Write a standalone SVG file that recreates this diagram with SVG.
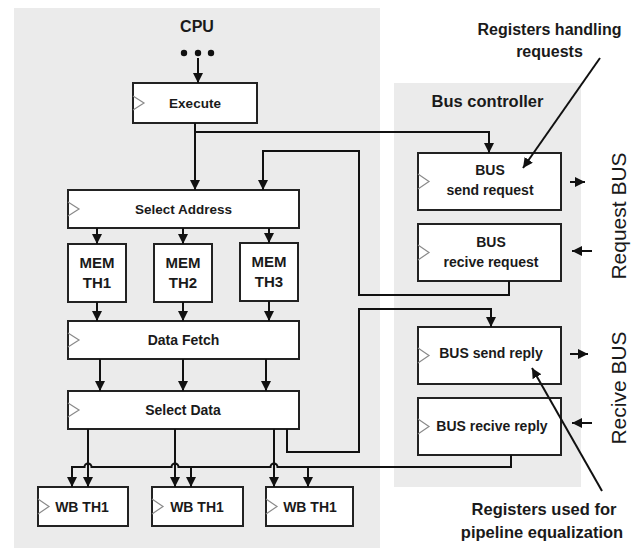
<svg xmlns="http://www.w3.org/2000/svg" width="637" height="548" viewBox="0 0 637 548">
  <defs>
    <marker id="ah" viewBox="0 0 10 10" refX="10" refY="5" markerWidth="10" markerHeight="10" markerUnits="userSpaceOnUse" orient="auto">
      <path d="M0,0 L10,5 L0,10 z" fill="#111"/>
    </marker>
    <style>
      .panel { fill: #ebebeb; stroke: none; }
      .box { fill: #ffffff; stroke: #222; stroke-width: 2; }
      .clk { fill: none; stroke: #8a8a8a; stroke-width: 1.2; }
      .lbl { font-family: "Liberation Sans", Arial, sans-serif; font-weight: bold; font-size: 14px; fill: #1a1a1a; text-anchor: middle; }
      .mem { font-size: 15px; }
      .title { font-family: "Liberation Sans", Arial, sans-serif; font-weight: bold; font-size: 16px; fill: #1a1a1a; text-anchor: middle; }
      .bus { font-family: "Liberation Sans", Arial, sans-serif; font-size: 21px; fill: #1a1a1a; text-anchor: middle; }
      .wire { fill: none; stroke: #111; stroke-width: 2; }
      .note { fill: none; stroke: #111; stroke-width: 2; }
    </style>
  </defs>

  <rect width="637" height="548" fill="#ffffff"/>

  <!-- background panels -->
  <rect id="cpu-panel" class="panel" x="14" y="8" width="366" height="540"/>
  <rect id="bus-panel" class="panel" x="394" y="83" width="187" height="404"/>
  <text class="title" x="197" y="32">CPU</text>
  <text class="title" x="487.5" y="107" style="font-size:16.5px">Bus controller</text>

  <!-- ellipsis above the pipeline -->
  <g id="dots" fill="#111">
    <circle cx="184" cy="53" r="3.2"/>
    <circle cx="198" cy="53" r="3.2"/>
    <circle cx="211" cy="53" r="3.2"/>
  </g>

  <!-- pipeline registers -->
  <g id="execute">
    <rect class="box" x="133" y="83" width="124" height="40"/>
    <polyline class="clk" points="133,96 144,103 133,110"/>
    <text class="lbl" x="195" y="108" style="font-size:13.5px">Execute</text>
  </g>
  <g id="select-address">
    <rect class="box" x="68" y="190" width="231" height="38"/>
    <polyline class="clk" points="68,202 79,209 68,216"/>
    <text class="lbl" x="183.5" y="214" style="font-size:13.5px">Select Address</text>
  </g>
  <g id="mem-th1">
    <rect class="box" x="68" y="244" width="58" height="58"/>
    <text class="lbl mem" x="97" y="268">MEM</text>
    <text class="lbl mem" x="97" y="288">TH1</text>
  </g>
  <g id="mem-th2">
    <rect class="box" x="154" y="244" width="58" height="58"/>
    <text class="lbl mem" x="183" y="268">MEM</text>
    <text class="lbl mem" x="183" y="288">TH2</text>
  </g>
  <g id="mem-th3">
    <rect class="box" x="240" y="243" width="58" height="58"/>
    <text class="lbl mem" x="269" y="267">MEM</text>
    <text class="lbl mem" x="269" y="287">TH3</text>
  </g>
  <g id="data-fetch">
    <rect class="box" x="68" y="321" width="231" height="38"/>
    <polyline class="clk" points="68,333 79,340 68,347"/>
    <text class="lbl" x="183.5" y="345">Data Fetch</text>
  </g>
  <g id="select-data">
    <rect class="box" x="68" y="391" width="231" height="38"/>
    <polyline class="clk" points="68,403 79,410 68,417"/>
    <text class="lbl" x="183" y="415">Select Data</text>
  </g>
  <g id="wb-1">
    <rect class="box" x="38" y="487" width="90" height="39"/>
    <polyline class="clk" points="38,499 49,506.5 38,514"/>
    <text class="lbl" x="82" y="512">WB TH1</text>
  </g>
  <g id="wb-2">
    <rect class="box" x="152" y="487" width="91" height="39"/>
    <polyline class="clk" points="152,499 163,506.5 152,514"/>
    <text class="lbl" x="197" y="512">WB TH1</text>
  </g>
  <g id="wb-3">
    <rect class="box" x="266" y="487" width="87" height="39"/>
    <polyline class="clk" points="266,499 277,506.5 266,514"/>
    <text class="lbl" x="310" y="512">WB TH1</text>
  </g>

  <!-- bus controller registers -->
  <g id="bus-send-request">
    <rect class="box" x="418" y="153" width="143" height="57"/>
    <polyline class="clk" points="418,174 429,181.5 418,189"/>
    <text class="lbl" x="490" y="175">BUS</text>
    <text class="lbl" x="490" y="195">send request</text>
  </g>
  <g id="bus-recive-request">
    <rect class="box" x="418" y="224" width="143" height="57"/>
    <polyline class="clk" points="418,245 429,252.5 418,260"/>
    <text class="lbl" x="491" y="247">BUS</text>
    <text class="lbl" x="491" y="267">recive request</text>
  </g>
  <g id="bus-send-reply">
    <rect class="box" x="418" y="327" width="143" height="57"/>
    <polyline class="clk" points="418,348 429,355.5 418,363"/>
    <text class="lbl" x="491" y="358">BUS send reply</text>
  </g>
  <g id="bus-recive-reply">
    <rect class="box" x="418" y="398" width="143" height="57"/>
    <polyline class="clk" points="418,419 429,426.5 418,434"/>
    <text class="lbl" x="492" y="431">BUS recive reply</text>
  </g>

  <!-- connectors -->
  <g id="connectors">
    <path class="wire" d="M198,58 V83" marker-end="url(#ah)"/>
    <path class="wire" d="M195,123 V190" marker-end="url(#ah)"/>
    <path class="wire" d="M195,132 H489 V153" marker-end="url(#ah)"/>
    <path class="wire" d="M509,281 V295 H359 V151 H263 V190" marker-end="url(#ah)"/>

    <path class="wire" d="M97,228 V244" marker-end="url(#ah)"/>
    <path class="wire" d="M183,228 V244" marker-end="url(#ah)"/>
    <path class="wire" d="M269,228 V243" marker-end="url(#ah)"/>

    <path class="wire" d="M97,302 V321" marker-end="url(#ah)"/>
    <path class="wire" d="M183,302 V321" marker-end="url(#ah)"/>
    <path class="wire" d="M269,301 V321" marker-end="url(#ah)"/>

    <path class="wire" d="M100,359 V391" marker-end="url(#ah)"/>
    <path class="wire" d="M183,359 V391" marker-end="url(#ah)"/>
    <path class="wire" d="M266,359 V391" marker-end="url(#ah)"/>

    <path class="wire" d="M88,429 V487" marker-end="url(#ah)"/>
    <path class="wire" d="M175,429 V487" marker-end="url(#ah)"/>
    <path class="wire" d="M274,429 V487" marker-end="url(#ah)"/>

    <path class="wire" d="M287,429 V452 H359 V309 H491 V327" marker-end="url(#ah)"/>

    <path class="wire" d="M511,455 V467 H277.5 A3.5,3.5 0 0 0 270.5,467 H178.5 A3.5,3.5 0 0 0 171.5,467 H91.5 A3.5,3.5 0 0 0 84.5,467 H72 V487" marker-end="url(#ah)"/>
    <path class="wire" d="M191,467 V487" marker-end="url(#ah)"/>
    <path class="wire" d="M308,467 V487" marker-end="url(#ah)"/>

    <!-- bus side ports -->
    <path class="wire" d="M570,182 H585" marker-end="url(#ah)"/>
    <path class="wire" d="M592,251 H572" marker-end="url(#ah)"/>
    <path class="wire" d="M570,354 H588" marker-end="url(#ah)"/>
    <path class="wire" d="M592,423 H572" marker-end="url(#ah)"/>
  </g>

  <!-- bus names -->
  <text class="bus" transform="translate(626,216) rotate(-90)">Request BUS</text>
  <text class="bus" transform="translate(626,388) rotate(-90)">Recive BUS</text>

  <!-- callouts -->
  <g id="note-requests">
    <text class="title" x="549.5" y="35">Registers handling</text>
    <text class="title" x="549.5" y="57">requests</text>
    <path class="note" d="M600,58 L523,168" marker-end="url(#ah)"/>
  </g>
  <g id="note-equalization">
    <text class="title" x="544" y="515" style="font-size:16.5px">Registers used for</text>
    <text class="title" x="542" y="538" style="font-size:16.5px">pipeline equalization</text>
    <path class="note" d="M602,491 L532,368" marker-end="url(#ah)"/>
  </g>
</svg>
